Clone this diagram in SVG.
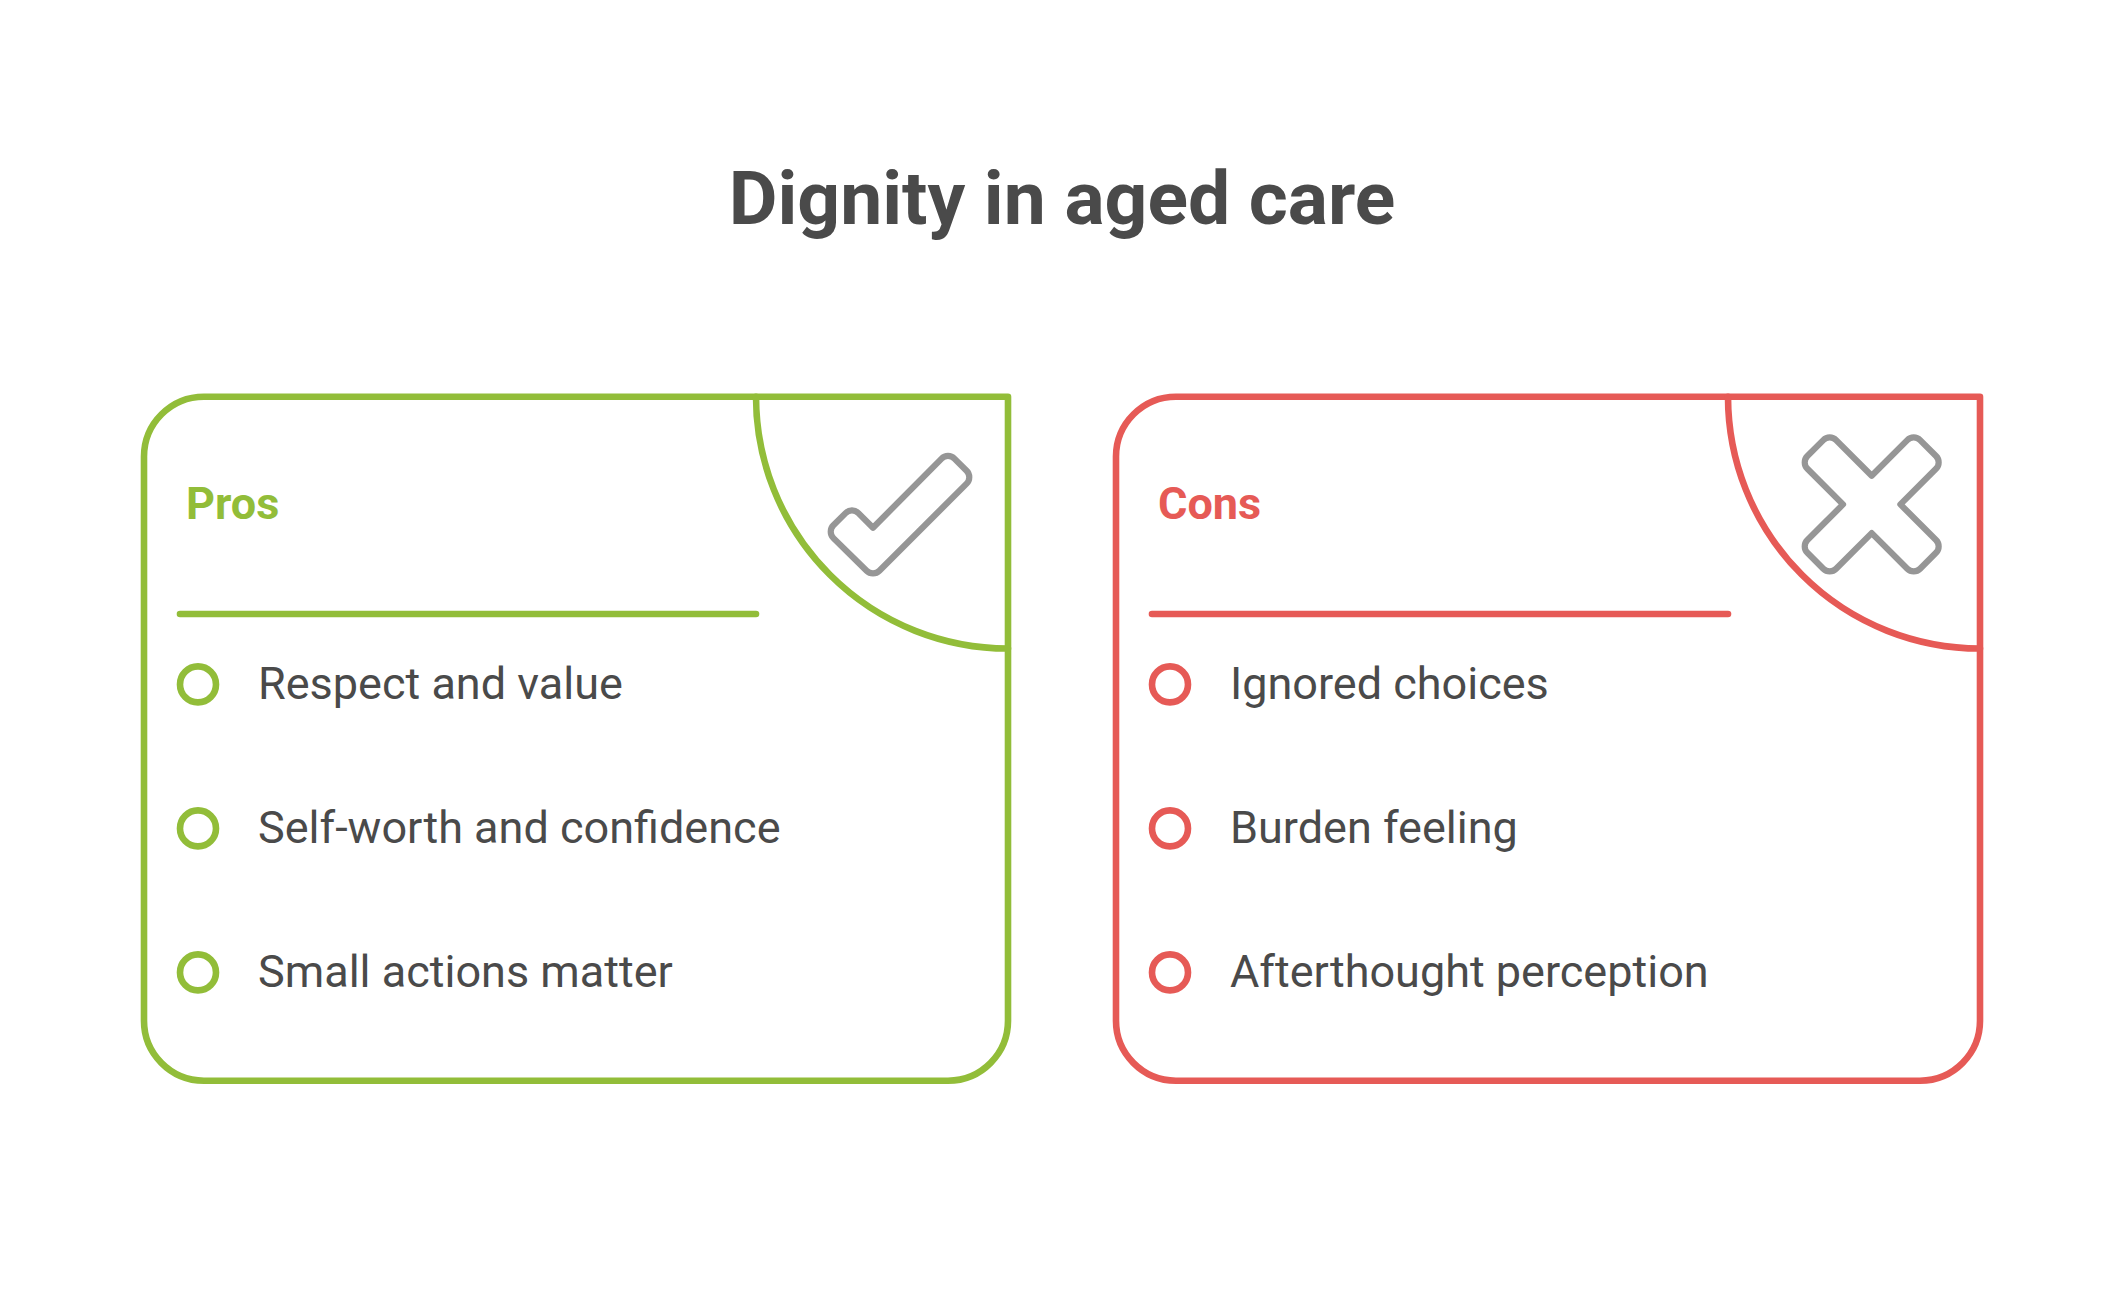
<svg xmlns="http://www.w3.org/2000/svg" width="2124" height="1296" viewBox="0 0 2124 1296">
<style>
text{font-family:Roboto,"Liberation Sans",sans-serif;fill:#4A4A4A}
.title{font-size:75px;font-weight:700;text-anchor:middle}
.head{font-size:45px;font-weight:700}
.item{font-size:45px}
.ln{fill:none;stroke-width:6.6;stroke-linecap:round;stroke-linejoin:round}
.icon{fill:none;stroke:#969696;stroke-width:6.2;stroke-linejoin:round}
.g .ln{stroke:#92BD39}.g .head{fill:#92BD39}
.r .ln{stroke:#E65A56}.r .head{fill:#E65A56}
</style>
<rect width="2124" height="1296" fill="#ffffff"/>
<g id="title"><text class="title" x="1062" y="223.5">Dignity in aged care</text></g>
<g id="pros" class="g">
<path class="ln" d="M204 396.7H1008V1020A60 60 0 0 1 948 1080.7H204A60 60 0 0 1 144 1020V456.7A60 60 0 0 1 204 396.7Z"/>
<path class="ln" d="M756 396.7A252 252 0 0 0 1008 648.5"/>
<path class="ln" d="M180 614H756"/>
<text class="head" x="186" y="518.5">Pros</text>
<path class="icon" transform="translate(0 .7)" d="M873 527L941.6 457.9A9 9 0 0 1 954.4 457.9L966.6 470.1A9 9 0 0 1 966.6 482.9L879.4 570.1A9 9 0 0 1 866.6 570.1L833.4 537.4A9 9 0 0 1 833.4 524.6L845.6 512.4A9 9 0 0 1 858.4 512.4Z"/>
</g>
<g id="pro-1" class="g"><circle class="ln" cx="198" cy="684.4" r="18"/><text class="item" x="258" y="699">Respect and value</text></g>
<g id="pro-2" class="g"><circle class="ln" cx="198" cy="828.4" r="18"/><text class="item" x="258" y="843">Self-worth and confidence</text></g>
<g id="pro-3" class="g"><circle class="ln" cx="198" cy="972.4" r="18"/><text class="item" x="258" y="987">Small actions matter</text></g>
<g id="cons" class="r">
<path class="ln" d="M1176 396.7H1980V1020A60 60 0 0 1 1920 1080.7H1176A60 60 0 0 1 1116 1020V456.7A60 60 0 0 1 1176 396.7Z"/>
<path class="ln" d="M1728 396.7A252 252 0 0 0 1980 648.5"/>
<path class="ln" d="M1152 614H1728"/>
<text class="head" x="1158" y="518.5">Cons</text>
<path class="icon" transform="translate(1871.7 504.4)" d="M0 -28.7L35.6 -64.3A9 9 0 0 1 48.4 -64.3L64.3 -48.4A9 9 0 0 1 64.3 -35.6L28.7 0L64.3 35.6A9 9 0 0 1 64.3 48.4L48.4 64.3A9 9 0 0 1 35.6 64.3L0 28.7L-35.6 64.3A9 9 0 0 1 -48.4 64.3L-64.3 48.4A9 9 0 0 1 -64.3 35.6L-28.7 0L-64.3 -35.6A9 9 0 0 1 -64.3 -48.4L-48.4 -64.3A9 9 0 0 1 -35.6 -64.3Z"/>
</g>
<g id="con-1" class="r"><circle class="ln" cx="1170" cy="684.4" r="18"/><text class="item" x="1230" y="699">Ignored choices</text></g>
<g id="con-2" class="r"><circle class="ln" cx="1170" cy="828.4" r="18"/><text class="item" x="1230" y="843">Burden feeling</text></g>
<g id="con-3" class="r"><circle class="ln" cx="1170" cy="972.4" r="18"/><text class="item" x="1230" y="987">Afterthought perception</text></g>
<g id="connectors"/>
</svg>
